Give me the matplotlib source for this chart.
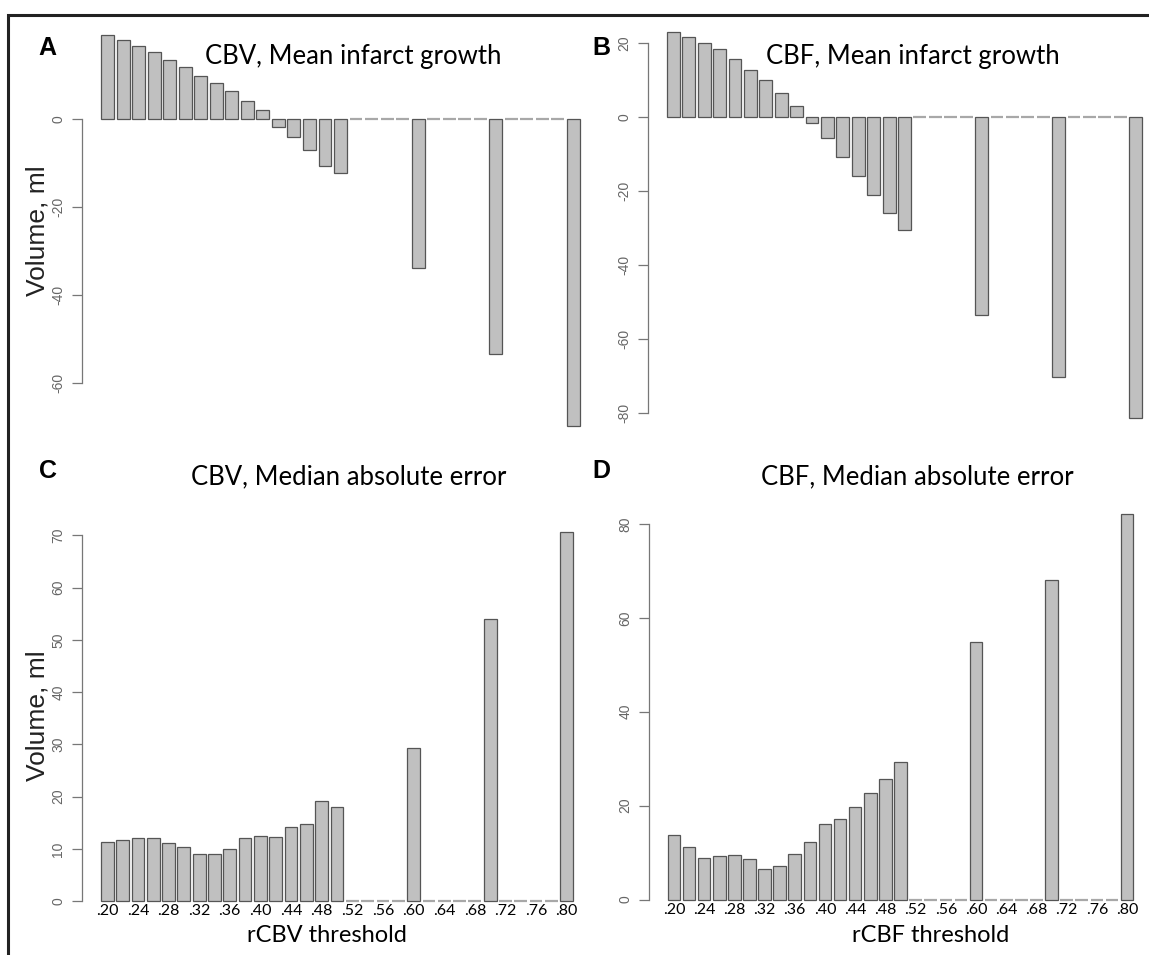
"""Four-panel bar chart: infarct growth and median absolute error vs rCBV / rCBF threshold."""

import matplotlib
matplotlib.use('Agg')
import matplotlib.pyplot as plt
from matplotlib.patches import Rectangle

# ---- data ----
thresholds = ['.20', '.22', '.24', '.26', '.28', '.30', '.32', '.34', '.36', '.38',
              '.40', '.42', '.44', '.46', '.48', '.50', '.52', '.54', '.56', '.58',
              '.60', '.62', '.64', '.66', '.68', '.70', '.72', '.74', '.76', '.78', '.80']
tick_labels = ['.20', '.24', '.28', '.32', '.36', '.40', '.44', '.48',
               '.52', '.56', '.60', '.64', '.68', '.72', '.76', '.80']

cbv_growth = [19.2, 18.0, 16.7, 15.2, 13.4, 11.8, 9.9, 8.3, 6.3, 4.2, 2.0,
              -1.9, -4.2, -7.0, -10.8, -12.3,
              0, 0, 0, 0, -33.9, 0, 0, 0, 0, -53.4, 0, 0, 0, 0, -70.0]
cbf_growth = [23.2, 21.8, 20.1, 18.4, 15.8, 12.9, 10.0, 6.6, 3.0,
              -1.4, -5.7, -10.7, -15.8, -21.1, -25.9, -30.5,
              0, 0, 0, 0, -53.4, 0, 0, 0, 0, -70.2, 0, 0, 0, 0, -81.4]
cbv_mae = [11.4, 11.7, 12.1, 12.1, 11.1, 10.4, 9.0, 9.0, 10.0, 12.1, 12.5,
           12.2, 14.2, 14.8, 19.1, 18.0,
           0, 0, 0, 0, 29.4, 0, 0, 0, 0, 53.9, 0, 0, 0, 0, 70.7]
cbf_mae = [13.8, 11.3, 8.8, 9.3, 9.5, 8.7, 6.6, 7.2, 9.7, 12.3, 16.1,
           17.2, 19.7, 22.8, 25.6, 29.4,
           0, 0, 0, 0, 54.8, 0, 0, 0, 0, 68.1, 0, 0, 0, 0, 82.1]

W, H = 1149, 955
TITLE_FONT = ['Lato', 'DejaVu Sans']
AXIS_FONT = ['Liberation Sans', 'DejaVu Sans']

fig = plt.figure(figsize=(W / 100, H / 100), dpi=100)


def add_panel(box, values, ylim, yticks, letter, letter_xy, title, title_xy,
              xlabel=None, xlabel_xy=None, ylabel_xy=None):
    """box = (left, top, right, bottom) in pixels."""
    l, t, r, b = box
    ax = fig.add_axes([l / W, 1 - b / H, (r - l) / W, (b - t) / H])
    # R barplot geometry: width 1, space 0.2
    centers = [0.2 + i * 1.2 + 0.5 for i in range(len(thresholds))]
    nonzero = [(c, v) for c, v in zip(centers, values) if v != 0]
    zero = [c for c, v in zip(centers, values) if v == 0]
    # empty categories: R draws them as flat outlines, i.e. grey dashes on 0
    ax.bar(zero, [0] * len(zero), width=1.0, color='#c0c0c0',
           edgecolor='#a8a8a8', linewidth=1.6)
    ax.bar([c for c, _ in nonzero], [v for _, v in nonzero], width=1.0,
           color='#c0c0c0', edgecolor='#555555', linewidth=0.9)
    ax.set_xlim(-1.28, 38.68)
    ax.set_ylim(*ylim)

    for s in ['top', 'right', 'bottom']:
        ax.spines[s].set_visible(False)
    ax.spines['left'].set_color('#777777')
    ax.spines['left'].set_linewidth(0.9)
    ax.spines['left'].set_bounds(min(yticks), max(yticks))
    ax.set_yticks(yticks)
    ax.set_yticklabels([str(v) for v in yticks], rotation=90, va='center',
                       family=AXIS_FONT, fontsize=10, color='#666666')
    ax.tick_params(axis='y', length=7, width=0.9, color='#777777', pad=5)

    if xlabel is not None:
        ax.set_xticks(centers[::2])
        ax.set_xticklabels(tick_labels, family=TITLE_FONT, fontsize=11.5)
        ax.tick_params(axis='x', length=0, pad=-9)
        fig.text(xlabel_xy[0] / W, 1 - xlabel_xy[1] / H, xlabel,
                 family=TITLE_FONT, fontsize=17, ha='center', va='baseline')
    else:
        ax.set_xticks([])

    fig.text(letter_xy[0] / W, 1 - letter_xy[1] / H, letter, family=AXIS_FONT,
             fontsize=18, fontweight='bold', ha='center', va='center')
    fig.text(title_xy[0] / W, 1 - title_xy[1] / H, title, family=TITLE_FONT,
             fontsize=18.5, ha='center', va='baseline')
    if ylabel_xy is not None:
        fig.text(ylabel_xy[0] / W, 1 - ylabel_xy[1] / H, 'Volume, ml',
                 family=AXIS_FONT, fontsize=19, rotation=90,
                 ha='center', va='center', color='#222222')
    return ax


add_panel((82, 18, 599, 444), cbv_growth, (-74, 23), [0, -20, -40, -60],
          'A', (47, 48), 'CBV, Mean infarct growth', (353, 64),
          ylabel_xy=(38, 231))
add_panel((648, 16, 1161, 434), cbf_growth, (-85.6, 27.4),
          [20, 0, -20, -40, -60, -80],
          'B', (601, 48), 'CBF, Mean infarct growth', (913, 64))
add_panel((82, 517, 592, 916), cbv_mae, (-2.83, 73.5),
          [0, 10, 20, 30, 40, 50, 60, 70],
          'C', (48, 471), 'CBV, Median absolute error', (349, 484),
          xlabel='rCBV threshold', xlabel_xy=(327, 942), ylabel_xy=(38, 716))
add_panel((649, 499, 1152, 915), cbf_mae, (-3.28, 85.3), [0, 20, 40, 60, 80],
          'D', (601, 471), 'CBF, Median absolute error', (917, 484),
          xlabel='rCBF threshold', xlabel_xy=(931, 942))

# frame (only top and left edges fall inside the image)
fig.add_artist(Rectangle((8 / W, -0.1), 1.2, 1 - 15 / H + 0.1,
                         transform=fig.transFigure, fill=False,
                         edgecolor='#222222', linewidth=2.2))

fig.savefig('out.png', dpi=100)
